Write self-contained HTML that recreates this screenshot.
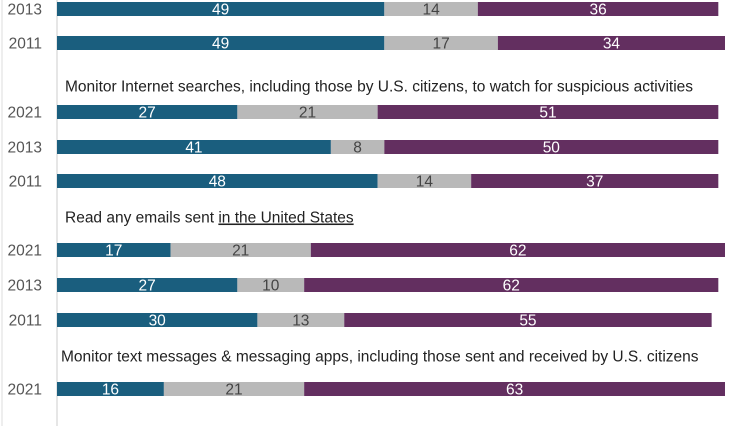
<!DOCTYPE html>
<html><head><meta charset="utf-8"><style>
body{margin:0;background:#fff;}
svg{display:block;font-family:"Liberation Sans",sans-serif;}
</style></head><body>
<svg id="c" width="747" height="426">
<line x1="2" y1="0" x2="2" y2="426" stroke="#ddd" stroke-width="1"/>
<line x1="57" y1="0" x2="57" y2="426" stroke="#ccc" stroke-width="1"/>
</svg>
<script>
const years=["2013","2011","2021","2013","2011","2021","2013","2011","2021"];
const seriesA=[49,49,27,41,48,17,27,30,16];
const seriesB=[14,17,21,8,14,21,10,13,21];
const seriesC=[36,34,51,50,37,62,62,55,63];
const rowY=[9,43,112,147,181,250,285,320,389];
const headers=["Monitor Internet searches, including those by U.S. citizens, to watch for suspicious activities","Read any emails sent in the United States","Monitor text messages & messaging apps, including those sent and received by U.S. citizens"];
const headerY=[86,217,356];
const x0=57, k=6.68, bh=14;
const xs=v=>x0+v*k;
const svg=document.getElementById('c');
const NS='http://www.w3.org/2000/svg';
function mk(t,a){const e=document.createElementNS(NS,t);for(const n in a)e.setAttribute(n,a[n]);svg.appendChild(e);return e;}
const cols=["#1a5e7e","#b9b9b9","#632f60"];
const tcol=["#fff","#444","#fff"];
const names=["oppose","dont-know","favor"];
years.forEach((y,i)=>{
  const cy=rowY[i];
  const lab=mk('text',{x:42,y:cy+5.5,'text-anchor':'end','font-size':15.5,fill:'#555'});
  lab.textContent=y;
  
  
  const vals=[seriesA[i],seriesB[i],seriesC[i]];
  let acc=0;
  vals.forEach((v,j)=>{
    const r=mk('rect',{x:xs(acc),y:cy-7,width:v*k,height:bh,fill:cols[j]});
    
    
    const t=mk('text',{x:xs(acc+v/2),y:cy+5.5,'text-anchor':'middle','font-size':15.5,fill:tcol[j]});
    t.textContent=v;
    
    
    acc+=v;
  });
});
headers.forEach((h,i)=>{
  const t=mk('text',{x:i===2?61:65,y:headerY[i]+5.5,'font-size':15.5,fill:'#222'});
  
  
  if(i===1){
    t.appendChild(document.createTextNode('Read any emails sent '));
    const s=document.createElementNS(NS,'tspan');s.setAttribute('text-decoration','underline');s.textContent='in the United States';t.appendChild(s);
  } else t.textContent=h;
});
</script>
</body></html>
